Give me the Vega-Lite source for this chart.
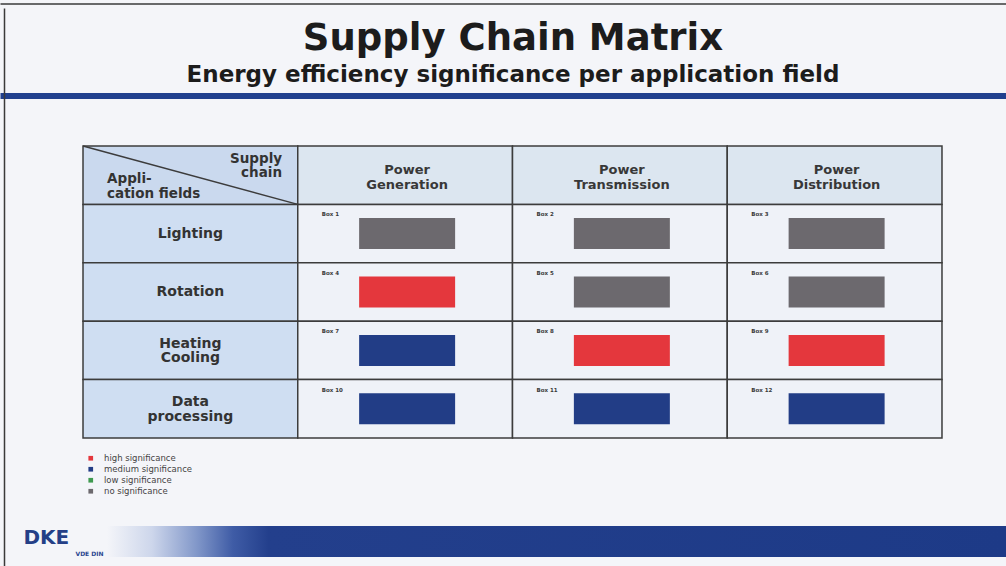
{
  "$schema": "https://vega.github.io/schema/vega-lite/v6.json",
  "width": 1006,
  "height": 566,
  "autosize": {"type": "none"},
  "padding": 0,
  "background": "#f4f5f9",
  "config": {"view": {"stroke": null}, "font": "DejaVu Sans", "axis": {"grid": false}},
  "title": {
    "text": "Supply Chain Matrix",
    "subtitle": "Energy efficiency significance per application field",
    "anchor": "middle",
    "offset": -88,
    "dx": 10,
    "font": "DejaVu Sans",
    "fontSize": 37,
    "fontWeight": "bold",
    "color": "#1c1c1c",
    "subtitleFont": "DejaVu Sans",
    "subtitleFontSize": 23,
    "subtitleFontWeight": "bold",
    "subtitleColor": "#1c1c1c",
    "subtitlePadding": 6
  },
  "datasets": {
    "cells": [
      {"col": "Application fields", "row": "Supply chain", "kind": "corner", "label": ["Supply", "chain"], "sublabel": ["Appli-", "cation fields"]},
      {"col": "Power Generation", "row": "Supply chain", "kind": "column header", "label": ["Power", "Generation"]},
      {"col": "Power Transmission", "row": "Supply chain", "kind": "column header", "label": ["Power", "Transmission"]},
      {"col": "Power Distribution", "row": "Supply chain", "kind": "column header", "label": ["Power", "Distribution"]},
      {"col": "Application fields", "row": "Lighting", "kind": "row header", "label": ["Lighting"]},
      {"col": "Power Generation", "row": "Lighting", "kind": "cell", "box": "Box 1", "significance": "no significance"},
      {"col": "Power Transmission", "row": "Lighting", "kind": "cell", "box": "Box 2", "significance": "no significance"},
      {"col": "Power Distribution", "row": "Lighting", "kind": "cell", "box": "Box 3", "significance": "no significance"},
      {"col": "Application fields", "row": "Rotation", "kind": "row header", "label": ["Rotation"]},
      {"col": "Power Generation", "row": "Rotation", "kind": "cell", "box": "Box 4", "significance": "high significance"},
      {"col": "Power Transmission", "row": "Rotation", "kind": "cell", "box": "Box 5", "significance": "no significance"},
      {"col": "Power Distribution", "row": "Rotation", "kind": "cell", "box": "Box 6", "significance": "no significance"},
      {"col": "Application fields", "row": "Heating Cooling", "kind": "row header", "label": ["Heating", "Cooling"]},
      {"col": "Power Generation", "row": "Heating Cooling", "kind": "cell", "box": "Box 7", "significance": "medium significance"},
      {"col": "Power Transmission", "row": "Heating Cooling", "kind": "cell", "box": "Box 8", "significance": "high significance"},
      {"col": "Power Distribution", "row": "Heating Cooling", "kind": "cell", "box": "Box 9", "significance": "high significance"},
      {"col": "Application fields", "row": "Data processing", "kind": "row header", "label": ["Data", "processing"]},
      {"col": "Power Generation", "row": "Data processing", "kind": "cell", "box": "Box 10", "significance": "medium significance"},
      {"col": "Power Transmission", "row": "Data processing", "kind": "cell", "box": "Box 11", "significance": "medium significance"},
      {"col": "Power Distribution", "row": "Data processing", "kind": "cell", "box": "Box 12", "significance": "medium significance"}
    ],
    "footer": [{"part": "footer band"}]
  },
  "layer": [
    {
      "data": {"name": "cells"},
      "encoding": {
        "x": {
          "field": "col", "type": "nominal", "sort": null,
          "scale": {"type": "band", "domain": ["Application fields", "Power Generation", "Power Transmission", "Power Distribution"], "paddingInner": 0, "paddingOuter": 0.3423, "align": 0.5646},
          "axis": {"orient": "top", "offset": -95.5, "domainColor": "#21408e", "domainWidth": 6, "labels": false, "ticks": false, "title": "VDE  DIN", "titleX": 75, "titleY": 460, "titleAngle": 0, "titleFontSize": 6, "titleFontWeight": "bold", "titleColor": "#2a4590", "titleAlign": "left", "titleBaseline": "alphabetic", "titleFont": "DejaVu Sans"}
        },
        "y": {
          "field": "row", "type": "nominal", "sort": null,
          "scale": {"type": "band", "domain": ["Supply chain", "Lighting", "Rotation", "Heating Cooling", "Data processing"], "paddingInner": 0, "range": [146, 438]},
          "axis": {"orient": "left", "offset": -4, "domain": false, "labels": false, "ticks": false, "title": "DKE", "titleX": 19, "titleY": 543, "titleAngle": 0, "titleFontSize": 20, "titleFontWeight": "bold", "titleColor": "#243f87", "titleAlign": "left", "titleBaseline": "alphabetic", "titleFont": "DejaVu Sans"}
        }
      },
      "layer": [
        {
          "mark": {"type": "rect", "stroke": "#3c3c3c", "strokeWidth": 1.5},
          "encoding": {
            "fill": {"field": "kind", "type": "nominal", "scale": {"domain": ["corner", "column header", "row header", "cell"], "range": ["#cad9ee", "#dce6f0", "#cfdef2", "#eff2f8"]}, "legend": null}
          }
        },
        {
          "transform": [{"filter": "datum.kind == 'corner'"}],
          "mark": {"type": "rule", "color": "#3c3c3c", "strokeWidth": 1.5},
          "encoding": {
            "x": {"field": "col", "type": "nominal", "sort": null, "bandPosition": 0},
            "x2": {"field": "col", "bandPosition": 1},
            "y": {"field": "row", "type": "nominal", "sort": null, "bandPosition": 0},
            "y2": {"field": "row", "bandPosition": 1}
          }
        },
        {
          "transform": [{"filter": "datum.significance != null"}],
          "mark": {"type": "rect", "width": {"band": 0.447}, "height": {"band": 0.53}, "xOffset": 2},
          "encoding": {
            "color": {
              "field": "significance", "type": "nominal",
              "scale": {"domain": ["high significance", "medium significance", "low significance", "no significance"], "range": ["#e4373d", "#223d86", "#3f9a50", "#6c696e"]},
              "legend": {"orient": "none", "legendX": 86.5, "legendY": 454, "title": null, "symbolType": "square", "symbolSize": 22, "labelFontSize": 8.5, "labelFont": "DejaVu Sans", "labelColor": "#444444", "rowPadding": 2, "labelOffset": 9, "padding": 0, "direction": "vertical"}
            }
          }
        },
        {
          "transform": [{"filter": "datum.box != null"}],
          "mark": {"type": "text", "fontSize": 5.5, "fontWeight": "bold", "color": "#3a3a3a", "align": "left", "baseline": "middle"},
          "encoding": {
            "x": {"field": "col", "type": "nominal", "sort": null, "bandPosition": 0.112},
            "y": {"field": "row", "type": "nominal", "sort": null, "bandPosition": 0.17},
            "text": {"field": "box"}
          }
        },
        {
          "transform": [{"filter": "datum.kind == 'row header' && length(datum.label) == 1"}],
          "mark": {"type": "text", "fontSize": 14, "fontWeight": "bold", "color": "#333333", "align": "center", "baseline": "middle"},
          "encoding": {"text": {"field": "label"}}
        },
        {
          "transform": [{"filter": "datum.kind == 'row header' && length(datum.label) > 1"}],
          "mark": {"type": "text", "fontSize": 14, "fontWeight": "bold", "color": "#333333", "align": "center", "baseline": "middle", "lineHeight": 14.5, "dy": -6.5},
          "encoding": {"text": {"field": "label"}}
        },
        {
          "transform": [{"filter": "datum.kind == 'column header'"}],
          "mark": {"type": "text", "fontSize": 13, "fontWeight": "bold", "color": "#383838", "align": "center", "baseline": "middle", "lineHeight": 15, "dy": -5, "dx": 2},
          "encoding": {"text": {"field": "label"}}
        },
        {
          "transform": [{"filter": "datum.kind == 'corner'"}],
          "mark": {"type": "text", "fontSize": 13.5, "fontWeight": "bold", "color": "#333333", "align": "right", "baseline": "top", "lineHeight": 14},
          "encoding": {
            "x": {"field": "col", "type": "nominal", "sort": null, "bandPosition": 0.927},
            "y": {"field": "row", "type": "nominal", "sort": null, "bandPosition": 0.108},
            "text": {"field": "label"}
          }
        },
        {
          "transform": [{"filter": "datum.kind == 'corner'"}],
          "mark": {"type": "text", "fontSize": 13.5, "fontWeight": "bold", "color": "#333333", "align": "left", "baseline": "top", "lineHeight": 15},
          "encoding": {
            "x": {"field": "col", "type": "nominal", "sort": null, "bandPosition": 0.112},
            "y": {"field": "row", "type": "nominal", "sort": null, "bandPosition": 0.44},
            "text": {"field": "sublabel"}
          }
        }
      ]
    },
    {
      "data": {"name": "footer"},
      "mark": {
        "type": "rect",
        "fill": {"gradient": "linear", "x1": 0, "x2": 1, "y1": 0, "y2": 0, "stops": [
          {"offset": 0, "color": "#f4f5f9"},
          {"offset": 0.05, "color": "#cdd6eb"},
          {"offset": 0.1, "color": "#8197c9"},
          {"offset": 0.14, "color": "#3f5ca6"},
          {"offset": 0.18, "color": "#233f8c"},
          {"offset": 1, "color": "#1d3a87"}
        ]}
      },
      "encoding": {
        "x": {"field": "part", "type": "nominal", "scale": {"type": "band", "paddingInner": 0, "paddingOuter": 0.0595, "align": 1}, "axis": {"orient": "top", "offset": -3.5, "domainColor": "#3a3a3a", "domainWidth": 1.5, "labels": false, "ticks": false, "title": null}},
        "y": {"field": "part", "type": "nominal", "bandPosition": 0.9283, "scale": {"type": "band", "paddingInner": 0, "range": [8, 566]}, "axis": {"orient": "left", "offset": -4, "domainColor": "#3a3a3a", "domainWidth": 1.5, "labels": false, "ticks": false, "title": null}},
        "y2": {"field": "part", "bandPosition": 0.9839}
      }
    }
  ],
  "resolve": {"scale": {"x": "independent", "y": "independent"}}
}
